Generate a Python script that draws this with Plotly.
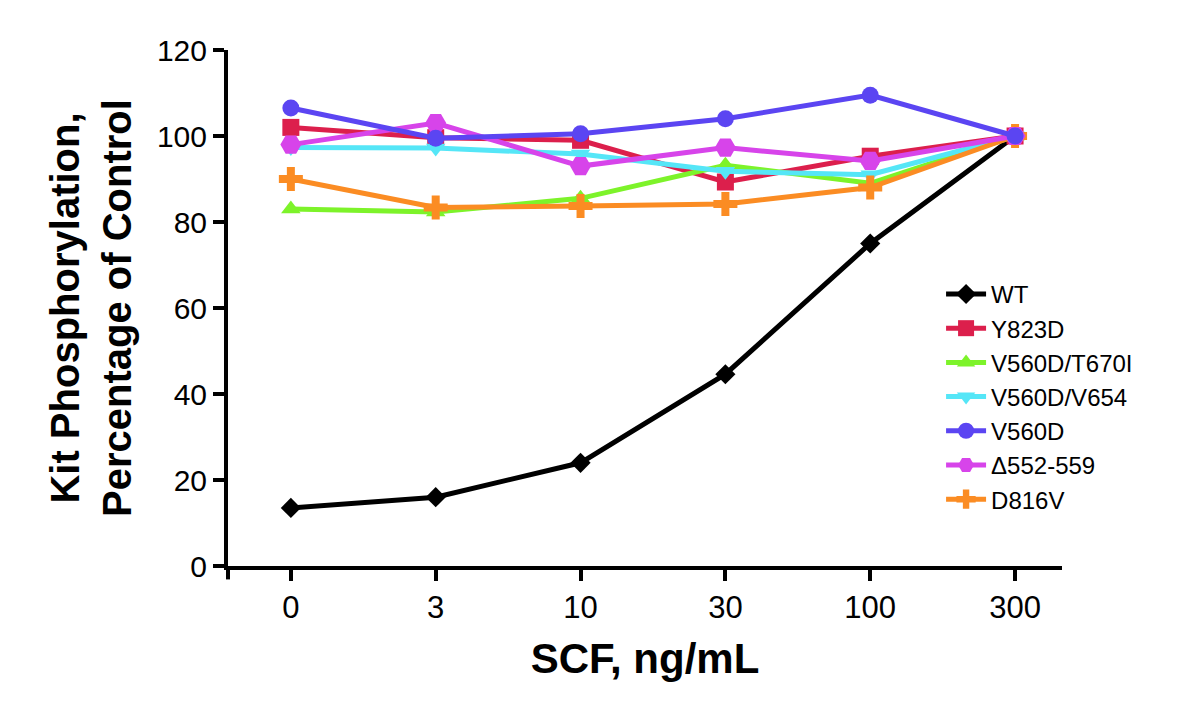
import plotly.graph_objects as go

doses = ["0", "3", "10", "30", "100", "300"]

wt = [13.5, 16.0, 24.0, 44.6, 75.0, 100.0]
y823d = [102.0, 99.6, 99.0, 89.3, 95.3, 100.0]
v560d_t670i = [83.0, 82.3, 85.5, 93.2, 89.0, 100.0]
v560d_v654 = [97.3, 97.2, 95.8, 91.8, 91.0, 100.0]
v560d = [106.5, 99.5, 100.5, 104.0, 109.5, 100.0]
d552_559 = [98.0, 103.0, 93.0, 97.3, 94.2, 100.0]
d816v = [90.0, 83.4, 83.7, 84.2, 88.0, 100.0]

series = [
    # name, values, color, symbol, marker size, legend rank (drawing order is list order)
    ("WT", wt, "#000000", "diamond", 15.5, 1),
    ("Y823D", y823d, "#dc1f4c", "square", 17, 2),
    ("V560D/T670I", v560d_t670i, "#7df32a", "triangle-up", 17, 3),
    ("V560D/V654", v560d_v654, "#55e6f7", "triangle-down", 17, 4),
    ("D816V", d816v, "#fb8c23", "cross", 20, 7),
    ("Δ552-559", d552_559, "#d744ea", "hexagon2", 21, 6),
    ("V560D", v560d, "#5b45f2", "circle", 17, 5),
]

fig = go.Figure()
for name, vals, color, sym, size, rank in series:
    fig.add_trace(go.Scatter(
        x=list(range(len(doses))), y=vals, name=name, mode="lines+markers",
        line=dict(color=color, width=5),
        marker=dict(symbol=sym, size=size, color=color, line=dict(width=0)),
        legendrank=rank,
    ))

font = "Liberation Sans, Arial, Helvetica, sans-serif"

fig.update_layout(
    width=1200, height=708,
    margin=dict(l=220, r=146, t=42, b=150),
    paper_bgcolor="white", plot_bgcolor="white",
    font=dict(family=font, color="black"),
    showlegend=True,
    legend=dict(x=0.855, y=0.57, xanchor="left", yanchor="top",
                font=dict(size=24, family=font, color="black"),
                bgcolor="rgba(0,0,0,0)", itemwidth=40),
    xaxis=dict(
        tickmode="array", tickvals=list(range(len(doses))), ticktext=doses,
        range=[-0.434, 5.324], showline=True, linecolor="black", linewidth=4,
        ticks="outside", ticklen=11, tickwidth=3.5, tickcolor="black",
        showgrid=False, zeroline=False,
        tickfont=dict(size=31, family=font, color="black"),
        title=dict(text="<b>SCF, ng/mL</b>", font=dict(size=42, family=font, color="black"),
                   standoff=20),
    ),
    yaxis=dict(
        range=[0, 120], tickvals=[0, 20, 40, 60, 80, 100, 120],
        showline=True, linecolor="black", linewidth=4,
        ticks="outside", ticklen=11, tickwidth=3.5, tickcolor="black",
        showgrid=False, zeroline=False,
        tickfont=dict(size=30, family=font, color="black"),
        title=dict(text="<b>Kit Phosphorylation,<br>Percentage of Control</b>",
                   font=dict(size=40, family=font, color="black"), standoff=14),
    ),
)

# small extension of the y-axis line below the x-axis (Prism style)
fig.add_shape(type="line", xref="x domain", yref="y domain",
              x0=0, x1=0, y0=0, y1=-0.026, line=dict(color="black", width=4))

fig.write_html("out.html")
